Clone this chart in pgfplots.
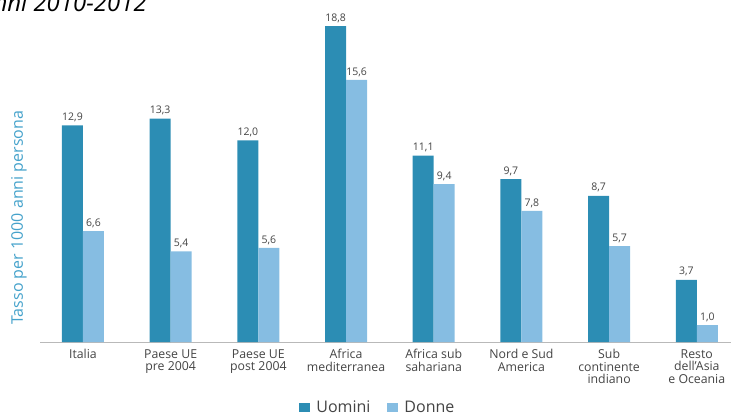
\documentclass[border=0pt]{standalone}
\usepackage{pgfplots}
\pgfplotsset{compat=1.18}
\usepackage{fontspec}
\setmainfont{Open Sans}
\definecolor{dark}{HTML}{2C8DB4}
\definecolor{light}{HTML}{86BDE2}
\definecolor{ylab}{HTML}{45A2CB}
\definecolor{txt}{HTML}{444444}
\begin{document}
\begin{tikzpicture}[x=1pt,y=1pt]
\path[use as bounding box] (0,0) rectangle (731,416);
\node[anchor=base east,font=\fontsize{24}{28}\selectfont\itshape,inner sep=0] at (147,404) {Anni 2010-2012};
\begin{axis}[
  at={(40pt,74pt)}, anchor=south west,
  scale only axis, width=691pt, height=336pt,
  xmin=-0.49, xmax=7.39, ymin=0, ymax=20,
  ybar=0pt, bar width=21pt,
  axis lines*=left,
  y axis line style={draw=none},
  x axis line style={draw=gray!55, line width=0.8pt, -},
  ytick=\empty,
  xtick=data, major tick length=0pt,
  xticklabels={Italia, {Paese UE\\pre 2004}, {Paese UE\\post 2004}, {Africa\\mediterranea}, {Africa sub\\sahariana}, {Nord e Sud\\America}, {Sub\\continente\\indiano}, {Resto\\dell'Asia\\e Oceania}},
  xticklabel style={align=center, font=\fontsize{12.3}{12.5}\selectfont, text=txt, yshift=-4pt},
  ylabel={Tasso per 1000 anni persona},
  every axis y label/.style={at={(-21pt,0.37)}, rotate=90, anchor=center, font=\fontsize{16}{18}\selectfont, text=ylab},
  nodes near coords,
  nodes near coords style={font=\fontsize{10.5}{12}\selectfont, text=txt, /pgf/number format/.cd, fixed, fixed zerofill, precision=1, use comma, assume math mode=true},
  legend columns=2,
  legend style={draw=none, at={(0.489,-0.196)}, anchor=center, font=\fontsize{16}{18}\selectfont, text=txt, /tikz/every even column/.append style={column sep=15pt}},
  legend image code/.code={\fill[#1] (0pt,-4pt) rectangle (11pt,5pt); \path (15pt,0pt);},
]
\addplot[fill=dark, draw=none] coordinates {(0,12.9) (1,13.3) (2,12.0) (3,18.8) (4,11.1) (5,9.7) (6,8.7) (7,3.7)};
\addplot[fill=light, draw=none] coordinates {(0,6.6) (1,5.4) (2,5.6) (3,15.6) (4,9.4) (5,7.8) (6,5.7) (7,1.0)};
\legend{Uomini, Donne}
\end{axis}
\end{tikzpicture}
\end{document}
